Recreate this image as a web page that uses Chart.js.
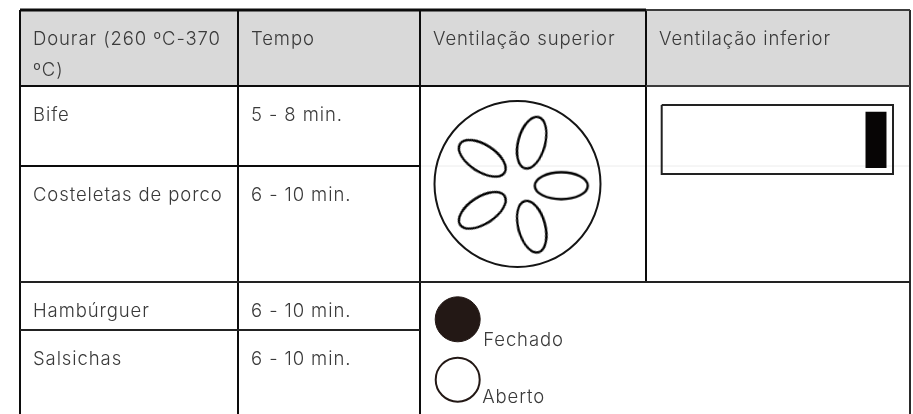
<!DOCTYPE html>
<html>
<head>
<meta charset="utf-8">
<title>Dourar</title>
<style>
  html, body { margin: 0; padding: 0; background: #fff; }
  canvas { display: block; }
</style>
<script src="https://cdn.jsdelivr.net/npm/chart.js@4"></script>
</head>
<body>
<canvas id="mycanvas" width="913" height="414"></canvas>
<script>
// table grid
var colEdges = [20, 238, 420, 646, 910];
var rowEdges = [10, 86, 166, 282, 330, 414];

var headers = ["Dourar (260 ºC-370", "Tempo", "Ventilação superior", "Ventilação inferior"];
var headerWrap = "ºC)";
var foods = ["Bife", "Costeletas de porco", "Hambúrguer", "Salsichas"];
var times = ["5 - 8 min.", "6 - 10 min.", "6 - 10 min.", "6 - 10 min."];
var ventLabels = ["Fechado", "Aberto"];

// top vent drawing
var ventX = [517.5];
var ventY = [184];
var ovalX = [531.7, 561.3, 531.7, 482.3, 482.3];
var ovalY = [142.7, 185.7, 226.7, 210.3, 158.3];
var ovalAngle = [-75, 0, 75, -33, 33];

// bottom vent slider
var sliderX = [661.7, 893];
var sliderY = [105, 174];
var knobX = [865.3, 886.7];
var knobY = [111.7, 168];

// legend circles
var legendX = [457.7, 457.7];
var legendY = [319.3, 379.7];

var textColor = "#3a3a3a";
var lineColor = "#0c0c0c";
var fontCss = '300 18.5px "Inter"';
var fontSpacing = "0.9px";

function seg(x1, y1, x2, y2, color, width) {
    return {
        type: "line",
        data: [{x: x1, y: y1}, {x: x2, y: y2}],
        borderColor: color,
        borderWidth: width,
        pointRadius: 0,
        fill: false
    };
}

function makeOval() {
    var c = document.createElement("canvas");
    c.width = 60;
    c.height = 34;
    var g = c.getContext("2d");
    g.strokeStyle = "#000000";
    g.lineWidth = 2.4;
    g.beginPath();
    g.ellipse(30, 17, 26.5, 13.5, 0, 0, Math.PI * 2);
    g.stroke();
    return c;
}

var datasets = [];

// header band, sits under everything else
datasets.push({
    type: "line",
    order: 9,
    data: [{x: colEdges[0], y: rowEdges[1]}, {x: colEdges[4], y: rowEdges[1]}],
    borderWidth: 0,
    pointRadius: 0,
    backgroundColor: "#d9d9d9",
    fill: {value: rowEdges[0]}
});

// faint seam left in the merged cells
var seam = seg(colEdges[2], rowEdges[2], colEdges[4], rowEdges[2], "#ececec", 1);
seam.order = 8;
datasets.push(seam);

// horizontal rules
datasets.push(seg(colEdges[0], rowEdges[0], colEdges[3], rowEdges[0], lineColor, 3));
datasets.push(seg(colEdges[3], rowEdges[0], colEdges[4], rowEdges[0], "#3c3c3c", 2));
datasets.push(seg(colEdges[0], rowEdges[1], colEdges[3], rowEdges[1], lineColor, 2));
datasets.push(seg(colEdges[3], rowEdges[1], colEdges[4], rowEdges[1], "#3c3c3c", 2));
datasets.push(seg(colEdges[0], rowEdges[2], colEdges[2], rowEdges[2], lineColor, 2));
datasets.push(seg(colEdges[0], rowEdges[3], colEdges[4], rowEdges[3], "#222222", 2));
datasets.push(seg(colEdges[0], rowEdges[4], colEdges[2], rowEdges[4], "#222222", 2));

// vertical rules
datasets.push(seg(colEdges[0], rowEdges[0], colEdges[0], rowEdges[5], lineColor, 2));
datasets.push(seg(colEdges[1], rowEdges[0], colEdges[1], rowEdges[5], lineColor, 2));
datasets.push(seg(colEdges[2], rowEdges[0], colEdges[2], rowEdges[5], lineColor, 2));
datasets.push(seg(colEdges[3], rowEdges[0], colEdges[3], rowEdges[3], lineColor, 2));
datasets.push(seg(colEdges[4], rowEdges[0], colEdges[4], rowEdges[5], "#2a2a2a", 2));

// top vent
datasets.push({
    data: [{x: ventX[0], y: ventY[0]}],
    pointRadius: 83,
    pointBorderWidth: 2,
    pointBorderColor: "#151515",
    pointBackgroundColor: "rgba(0,0,0,0)"
});
var oval = makeOval();
datasets.push({
    data: ovalX.map(function(x, i) { return {x: x, y: ovalY[i]}; }),
    pointStyle: oval,
    pointRotation: ovalAngle,
    pointRadius: 30
});

// bottom vent slider
datasets.push({
    type: "line",
    data: [
        {x: sliderX[0], y: sliderY[0]}, {x: sliderX[1], y: sliderY[0]},
        {x: sliderX[1], y: sliderY[1]}, {x: sliderX[0], y: sliderY[1]},
        {x: sliderX[0], y: sliderY[0]}
    ],
    borderColor: "#222222",
    borderWidth: 2,
    pointRadius: 0,
    fill: false
});
datasets.push({
    type: "line",
    data: [{x: knobX[0], y: knobY[1]}, {x: knobX[1], y: knobY[1]}],
    borderWidth: 0,
    pointRadius: 0,
    backgroundColor: "#070505",
    fill: {value: knobY[0]}
});

// legend circles
datasets.push({
    data: [{x: legendX[0], y: legendY[0]}],
    pointRadius: 22.5,
    pointBorderWidth: 1,
    pointBorderColor: "#231815",
    pointBackgroundColor: "#231815"
});
datasets.push({
    data: [{x: legendX[1], y: legendY[1]}],
    pointRadius: 22,
    pointBorderWidth: 2,
    pointBorderColor: "#231815",
    pointBackgroundColor: "#ffffff"
});

var cellText = {
    id: "cellText",
    afterDatasetsDraw: function(chart) {
        var ctx = chart.ctx;
        var sx = chart.scales.x;
        var sy = chart.scales.y;
        function put(str, x, y) {
            ctx.fillText(str, sx.getPixelForValue(x), sy.getPixelForValue(y));
        }
        ctx.save();
        ctx.font = fontCss;
        ctx.letterSpacing = fontSpacing;
        ctx.fillStyle = textColor;
        ctx.textBaseline = "alphabetic";

        // text sits 13 right of the cell edge, 35 under its top
        for (var i = 0; i < headers.length; i++) {
            put(headers[i], colEdges[i] + 13, rowEdges[0] + 35);
        }
        put(headerWrap, colEdges[0] + 13, rowEdges[0] + 66);

        var tops = [rowEdges[1], rowEdges[2], rowEdges[3], rowEdges[4]];
        for (var j = 0; j < foods.length; j++) {
            put(foods[j], colEdges[0] + 13, tops[j] + 35);
            put(times[j], colEdges[1] + 13, tops[j] + 35);
        }

        put(ventLabels[0], legendX[0] + 25.5, legendY[0] + 26.5);
        put(ventLabels[1], legendX[1] + 24.5, legendY[1] + 23.5);
        ctx.restore();
    }
};

var chart = new Chart(document.getElementById("mycanvas"), {
    type: "scatter",
    data: {datasets: datasets},
    options: {
        responsive: false,
        animation: false,
        events: [],
        layout: {padding: 0, autoPadding: false},
        plugins: {legend: {display: false}, tooltip: {enabled: false}},
        scales: {
            x: {type: "linear", min: 0, max: 913, display: false},
            y: {type: "linear", min: 0, max: 414, reverse: true, display: false}
        }
    },
    plugins: [cellText]
});
</script>
</body>
</html>
